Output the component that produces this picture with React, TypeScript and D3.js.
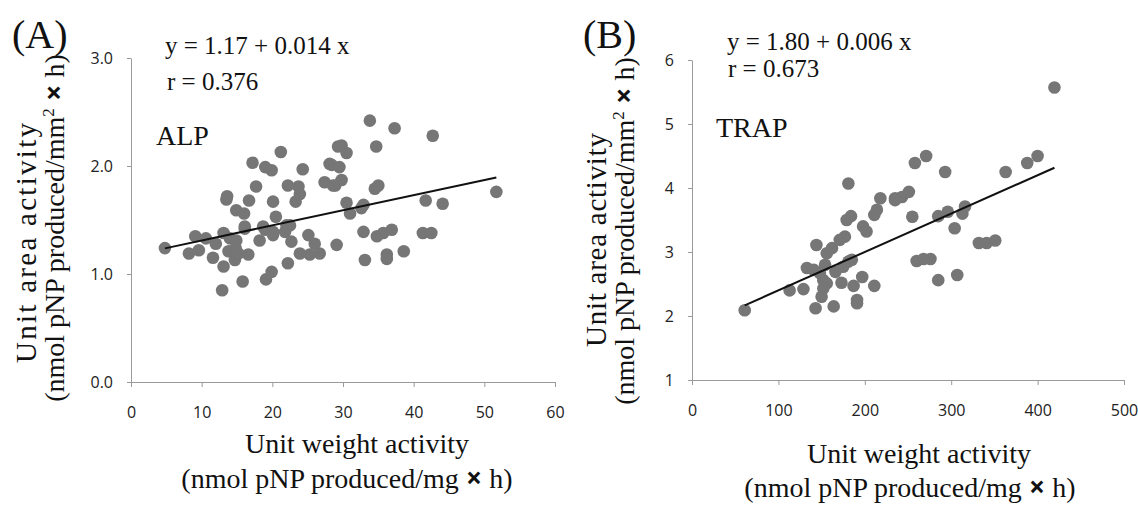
import React, { useEffect, useRef } from "react";
import * as d3 from "d3";

// (A) ALP: unit weight activity vs unit area activity
const alpWeight = [4.8, 8.2, 9.1, 9.6, 10.6, 11.6, 12.0, 12.9, 13.1, 13.1, 13.5, 13.6, 13.8, 14.0, 14.7, 14.8, 14.9, 14.9, 15.2, 15.8, 16.0, 16.1, 16.1, 16.6, 16.7, 17.2, 17.7, 18.2, 18.7, 19.0, 19.0, 19.1, 19.9, 19.9, 20.1, 20.1, 20.1, 20.5, 21.2, 21.8, 22.0, 22.2, 22.2, 22.5, 22.7, 23.3, 23.7, 23.9, 23.9, 24.3, 25.1, 25.3, 26.0, 26.7, 27.4, 28.1, 28.4, 28.6, 28.9, 29.1, 29.3, 29.5, 29.8, 29.8, 30.5, 30.5, 31.0, 32.6, 32.9, 32.9, 33.1, 33.8, 34.5, 35.0, 34.7, 34.8, 35.7, 36.2, 36.2, 36.9, 37.3, 38.6, 41.3, 41.7, 42.5, 42.7, 44.1, 51.7];
const alpArea = [1.24, 1.19, 1.35, 1.22, 1.33, 1.15, 1.28, 0.85, 1.07, 1.38, 1.69, 1.72, 1.21, 1.33, 1.13, 1.24, 1.31, 1.59, 1.19, 0.93, 1.56, 1.42, 1.44, 1.18, 1.68, 2.03, 1.81, 1.31, 1.44, 1.99, 1.41, 0.95, 1.96, 1.02, 1.67, 1.39, 1.36, 1.53, 2.13, 1.39, 1.45, 1.82, 1.10, 1.45, 1.30, 1.67, 1.81, 1.74, 1.19, 1.97, 1.36, 1.18, 1.28, 1.19, 1.85, 2.02, 2.01, 1.82, 1.82, 1.27, 2.18, 1.99, 2.19, 1.87, 2.12, 1.66, 1.56, 1.61, 1.64, 1.39, 1.13, 2.42, 1.79, 1.82, 2.18, 1.35, 1.38, 1.18, 1.14, 1.41, 2.35, 1.21, 1.38, 1.68, 1.38, 2.28, 1.65, 1.76];
const alpFit = [1.17, 0.014];
const alpXTicks = [0, 10, 20, 30, 40, 50, 60];
const alpYTicks = [0, 1, 2, 3];

// (B) TRAP
const trapWeight = [61, 113, 129, 133, 141, 143, 144, 148, 150, 152, 152, 154, 156, 156, 162, 164, 166, 171, 173, 175, 177, 179, 181, 181, 184, 185, 187, 191, 191, 197, 198, 202, 211, 211, 214, 218, 235, 235, 243, 251, 255, 258, 260, 268, 271, 276, 285, 285, 293, 296, 304, 307, 313, 316, 332, 341, 351, 363, 388, 400, 419.5];
const trapArea = [2.09, 2.40, 2.42, 2.75, 2.72, 2.12, 3.11, 2.67, 2.30, 2.56, 2.43, 2.80, 2.98, 2.51, 3.06, 2.15, 2.69, 3.19, 2.52, 2.77, 3.24, 3.50, 2.85, 4.07, 3.56, 2.88, 2.47, 2.20, 2.25, 2.61, 3.40, 3.32, 3.58, 2.47, 3.66, 3.84, 3.84, 3.81, 3.86, 3.94, 3.55, 4.39, 2.86, 2.89, 4.50, 2.89, 3.56, 2.56, 4.25, 3.63, 3.37, 2.64, 3.60, 3.71, 3.14, 3.14, 3.18, 4.25, 4.39, 4.50, 5.57];
const trapFit = [1.80, 0.006];
const trapXTicks = [0, 100, 200, 300, 400, 500];
const trapYTicks = [1, 2, 3, 4, 5, 6];

const serif = "'Liberation Serif', 'Times New Roman', serif";
const sans = "'Open Sans', sans-serif";

const panels = [
  {
    tag: "(A)", name: "ALP", eq: "y = 1.17 + 0.014 x", r: "r = 0.376",
    xs: alpWeight, ys: alpArea, fit: alpFit, xTicks: alpXTicks, yTicks: alpYTicks,
    xDomain: [0, 60], yDomain: [0, 3], yFormat: d3.format(".1f"),
    left: 131, right: 555, bottom: 382, top: 58,
    tagPos: [12, 48], eqPos: [165, 54], rPos: [167, 90], namePos: [156, 145],
    yTitle: { x1: 36, x2: 64, cy1: 243, cy2: 228, len1: 240 },
    xTitle: { cx1: 357, cx2: 347, y1: 453, y2: 488 },
  },
  {
    tag: "(B)", name: "TRAP", eq: "y = 1.80 + 0.006 x", r: "r = 0.673",
    xs: trapWeight, ys: trapArea, fit: trapFit, xTicks: trapXTicks, yTicks: trapYTicks,
    xDomain: [0, 500], yDomain: [1, 6], yFormat: d3.format("d"),
    left: 692, right: 1124, bottom: 380, top: 60,
    tagPos: [583, 48], eqPos: [727, 50], rPos: [728, 77], namePos: [716, 137],
    yTitle: { x1: 606, x2: 634, cy1: 240, cy2: 231, len1: 214 },
    xTitle: { cx1: 919, cx2: 910, y1: 463, y2: 497 },
  },
];

function Panel({ p }) {
  const xAxisRef = useRef(null);
  const yAxisRef = useRef(null);

  const xScale = d3.scaleLinear().domain(p.xDomain).range([p.left, p.right]);
  const yScale = d3.scaleLinear().domain(p.yDomain).range([p.bottom, p.top]);

  const xExt = d3.extent(p.xs);
  const fitLine = d3
    .line()
    .x(d => xScale(d))
    .y(d => yScale(p.fit[0] + p.fit[1] * d));

  useEffect(() => {
    const xAxis = d3.axisBottom(xScale).tickValues(p.xTicks).tickSize(5).tickSizeOuter(0).tickPadding(20);
    const yAxis = d3.axisLeft(yScale).tickValues(p.yTicks).tickFormat(p.yFormat).tickSize(4).tickSizeOuter(0).tickPadding(14);
    [d3.select(xAxisRef.current).call(xAxis), d3.select(yAxisRef.current).call(yAxis)].forEach(g => {
      g.select(".domain").attr("stroke", "#9a9a9a");
      g.selectAll(".tick line").attr("stroke", "#9a9a9a");
      g.selectAll(".tick text").attr("fill", "#222").style("font-family", sans).style("font-size", "16px");
    });
  });

  return (
    <g>
      <g ref={yAxisRef} transform={"translate(" + p.left + ",0)"} />
      <g ref={xAxisRef} transform={"translate(0," + p.bottom + ")"} />
      {p.xs.map((x, i) => (
        <circle key={i} cx={xScale(x)} cy={yScale(p.ys[i])} r={6.3} fill="#767676" />
      ))}
      <path d={fitLine(xExt)} fill="none" stroke="#111" strokeWidth="2" />

      <text x={p.tagPos[0]} y={p.tagPos[1]} fontFamily={serif} fontSize="40" fill="#111">{p.tag}</text>
      <text x={p.eqPos[0]} y={p.eqPos[1]} fontFamily={serif} fontSize="25" fill="#111">{p.eq}</text>
      <text x={p.rPos[0]} y={p.rPos[1]} fontFamily={serif} fontSize="25" fill="#111">{p.r}</text>
      <text x={p.namePos[0]} y={p.namePos[1]} fontFamily={serif} fontSize="28" fill="#111">{p.name}</text>

      {/* y title */}
      <text transform={"translate(" + p.yTitle.x1 + "," + p.yTitle.cy1 + ") rotate(-90)"} textAnchor="middle"
        fontFamily={serif} fontSize="29" fill="#111" textLength={p.yTitle.len1} lengthAdjust="spacing">
        Unit area activity
      </text>
      <text transform={"translate(" + p.yTitle.x2 + "," + p.yTitle.cy2 + ") rotate(-90)"} textAnchor="middle"
        fontFamily={serif} fontSize="28" fill="#111">
        (nmol pNP produced/mm<tspan dy="-10" fontSize="17">2</tspan>
        <tspan dy="10" fontFamily={sans} fontWeight="bold"> × </tspan>h)
      </text>

      {/* x title */}
      <text x={p.xTitle.cx1} y={p.xTitle.y1} textAnchor="middle" fontFamily={serif} fontSize="28" fill="#111">
        Unit weight activity
      </text>
      <text x={p.xTitle.cx2} y={p.xTitle.y2} textAnchor="middle" fontFamily={serif} fontSize="28" fill="#111">
        (nmol pNP produced/mg<tspan fontFamily={sans} fontWeight="bold"> × </tspan>h)
      </text>
    </g>
  );
}

export default function App() {
  return (
    <div style={{ position: "fixed", left: 0, top: 0 }}>
      <svg width={1138} height={505} style={{ display: "block", background: "#fff" }}>
        <rect width={1138} height={505} fill="#fff" />
        {panels.map(p => (
          <Panel key={p.tag} p={p} />
        ))}
      </svg>
    </div>
  );
}
